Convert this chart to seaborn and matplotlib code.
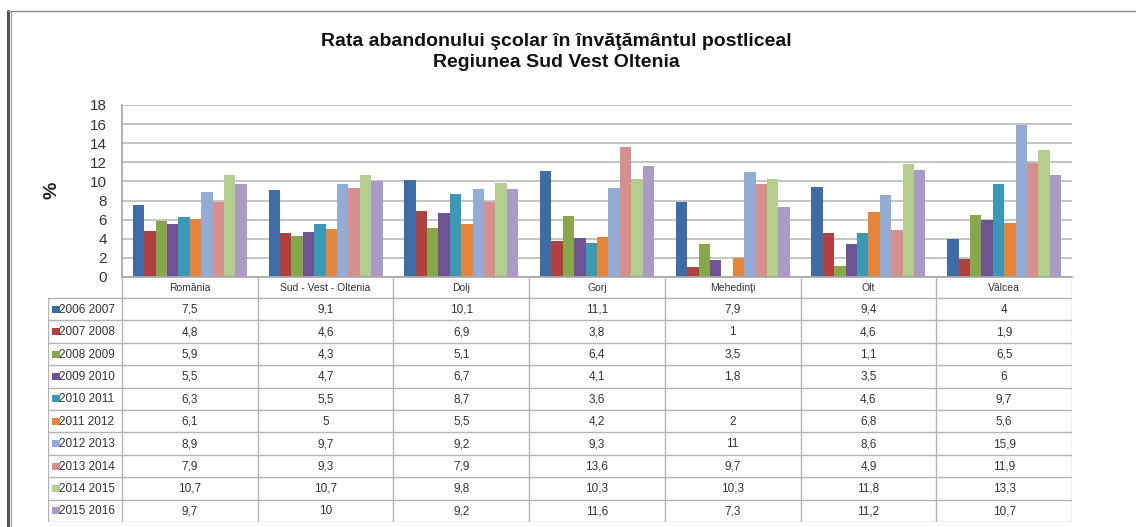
import numpy as np
import pandas as pd
import seaborn as sns
import matplotlib.pyplot as plt
from matplotlib.lines import Line2D
from matplotlib.patches import Rectangle

categories = ["România", "Sud - Vest - Oltenia", "Dolj", "Gorj", "Mehedinţi", "Olt", "Vâlcea"]
years = ["2006 2007", "2007 2008", "2008 2009", "2009 2010", "2010 2011",
         "2011 2012", "2012 2013", "2013 2014", "2014 2015", "2015 2016"]

v2006_2007 = [7.5, 9.1, 10.1, 11.1, 7.9, 9.4, 4]
v2007_2008 = [4.8, 4.6, 6.9, 3.8, 1, 4.6, 1.9]
v2008_2009 = [5.9, 4.3, 5.1, 6.4, 3.5, 1.1, 6.5]
v2009_2010 = [5.5, 4.7, 6.7, 4.1, 1.8, 3.5, 6]
v2010_2011 = [6.3, 5.5, 8.7, 3.6, np.nan, 4.6, 9.7]
v2011_2012 = [6.1, 5, 5.5, 4.2, 2, 6.8, 5.6]
v2012_2013 = [8.9, 9.7, 9.2, 9.3, 11, 8.6, 15.9]
v2013_2014 = [7.9, 9.3, 7.9, 13.6, 9.7, 4.9, 11.9]
v2014_2015 = [10.7, 10.7, 9.8, 10.3, 10.3, 11.8, 13.3]
v2015_2016 = [9.7, 10, 9.2, 11.6, 7.3, 11.2, 10.7]

series = [v2006_2007, v2007_2008, v2008_2009, v2009_2010, v2010_2011,
          v2011_2012, v2012_2013, v2013_2014, v2014_2015, v2015_2016]

colors = ["#3C6DA6", "#B0403D", "#87A84A", "#6F5495", "#3A9AB5",
          "#E6853A", "#92ACD6", "#D68F8D", "#B4CE8E", "#A99BC6"]

title = "Rata abandonului şcolar în învăţământul postliceal\nRegiunea Sud Vest Oltenia"

rows = []
for y, vals in zip(years, series):
    for c, v in zip(categories, vals):
        rows.append({"cat": c, "year": y, "val": v})
df = pd.DataFrame(rows)

sns.set_theme(style="white")
plt.rcParams["font.family"] = ["Liberation Sans", "DejaVu Sans"]

W, H = 1136, 527
fig = plt.figure(figsize=(W / 100, H / 100), dpi=100)

# outer frame
fig.add_artist(Line2D([8 / W, 8 / W], [0, 1 - 11 / H], color="#555555", lw=2.2))
fig.add_artist(Line2D([10.5 / W, 10.5 / W], [0, 1 - 11 / H], color="#9a9a9a", lw=0.8))
fig.add_artist(Line2D([8 / W, 1], [1 - 11 / H, 1 - 11 / H], color="#8a8a8a", lw=1.0))

px_l, px_r, px_t, px_b = 122, 1072, 105, 277
ax = fig.add_axes([px_l / W, 1 - px_b / H, (px_r - px_l) / W, (px_b - px_t) / H])
sns.barplot(data=df, x="cat", y="val", hue="year", order=categories, hue_order=years,
            palette=colors, width=0.84, gap=0, saturation=1, errorbar=None,
            legend=False, ax=ax, linewidth=0)
ax.set_xlim(-0.5, len(categories) - 0.5)
ax.set_ylim(0, 18)
ax.set_yticks(np.arange(0, 19, 2))
ax.set_xticks([])
ax.set_xlabel("")
ax.set_ylabel("")
ax.yaxis.grid(True, color="#C4C4C4", lw=1.4)
ax.set_axisbelow(True)
for s in ["top", "right"]:
    ax.spines[s].set_visible(False)
ax.spines["left"].set_color("#A8A8A8")
ax.spines["bottom"].set_color("#A8A8A8")
ax.tick_params(axis="y", length=0, pad=11, labelsize=11, labelcolor="#333333")

fig.text(556 / W, 1 - 52 / H, title, ha="center", va="center", fontsize=14,
         fontweight="bold", linespacing=1.3, color="#111111")
fig.text(52 / W, 1 - 190 / H, "%", rotation=90, ha="center", va="center",
         fontsize=14, fontweight="bold", color="#222222")

# data table
tl, tr, tt, tb = 48, 1072, 277, 522
tab = fig.add_axes([tl / W, 1 - tb / H, (tr - tl) / W, (tb - tt) / H])
tab.set_xlim(0, tr - tl)
tab.set_ylim(tb - tt, 0)
tab.axis("off")
hdr_w = px_l - tl
col_w = (tr - tl - hdr_w) / len(categories)
hdr_h = 21
row_h = (tb - tt - hdr_h) / len(years)
lc = "#B4B4B4"
for i in range(len(categories) + 1):
    x = hdr_w + i * col_w
    tab.plot([x, x], [0, tb - tt], color=lc, lw=1.0)
tab.plot([0, 0], [hdr_h, tb - tt], color=lc, lw=1.0)
for j in range(len(years) + 1):
    y = hdr_h + j * row_h
    tab.plot([0, tr - tl], [y, y], color=lc, lw=1.0)
for i, c in enumerate(categories):
    tab.text(hdr_w + (i + 0.5) * col_w, hdr_h / 2 + 0.5, c, ha="center", va="center",
             fontsize=7.5, color="#333333")


def fmt(v):
    if np.isnan(v):
        return ""
    return f"{v:g}".replace(".", ",")


for j, (yname, vals, col) in enumerate(zip(years, series, colors)):
    yc = hdr_h + (j + 0.5) * row_h
    tab.add_patch(Rectangle((4, yc - 3.5), 8, 7, color=col, lw=0))
    tab.text(11, yc + 0.5, yname, ha="left", va="center", fontsize=8.5, color="#333333")
    for i, v in enumerate(vals):
        tab.text(hdr_w + (i + 0.5) * col_w, yc + 0.5, fmt(v), ha="center", va="center",
                 fontsize=8.5, color="#333333")

fig.savefig("out.png", dpi=100)
